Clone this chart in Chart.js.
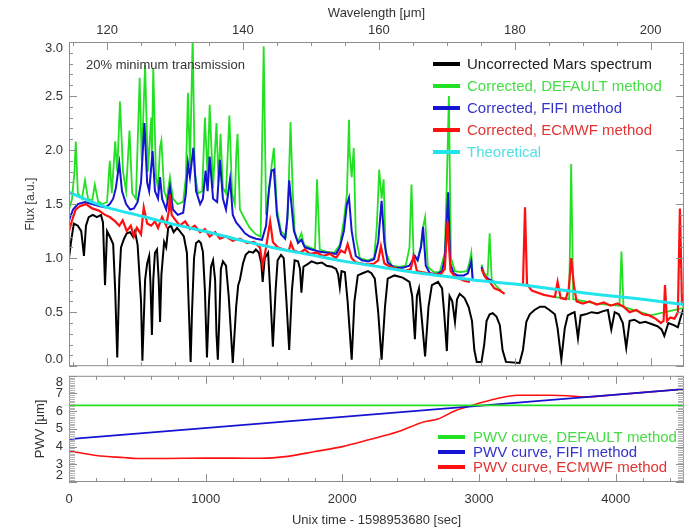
<!DOCTYPE html>
<html>
<head>
<meta charset="utf-8">
<script src="https://cdn.jsdelivr.net/npm/chart.js@4.4.1/dist/chart.umd.min.js"></script>
<style>
  html, body { margin: 0; padding: 0; background: #fff; }
  #wrap { position: relative; width: 690px; height: 528px; }
  #top { position: absolute; left: 0; top: 0; width: 690px; height: 380px; }
  #bot { position: absolute; left: 0; top: 362px; width: 690px; height: 166px; }
</style>
</head>
<body>
<div id="wrap">
  <canvas id="top" width="690" height="380"></canvas>
  <canvas id="bot" width="690" height="166"></canvas>
</div>
<script>
// ---- top panel: spectra vs wavelength (um) ----
const wlTicks   = [120, 140, 160, 180, 200];
const fluxTicks = [0, 0.5, 1.0, 1.5, 2.0, 2.5, 3.0];

const blackWl = [114.4,114.7,115.1,115.7,116.2,116.6,116.9,117.3,117.9,118.5,
  119.1,119.4,119.7,120.0,120.4,120.9,121.2,121.5,121.8,122.05,
  122.5,122.9,123.4,123.8,124.1,124.5,125.0,125.2,125.6,125.9,
  126.2,126.4,126.6,126.8,127.05,127.35,127.6,127.8,128.0,128.4,
  128.7,129.0,129.4,129.8,130.3,130.7,131.3,131.75,132.05,132.3,
  132.5,132.8,133.1,133.5,133.8,134.1,134.4,134.7,135.0,135.3,
  135.6,135.9,136.1,136.3,136.5,136.75,137.05,137.5,137.9,138.5,
  139.0,139.3,139.55,140.0,140.4,140.9,141.5,141.9,142.35,142.7,
  142.9,143.2,143.7,144.0,144.4,144.8,145.1,145.6,146.0,146.4,
  146.8,147.2,147.6,148.1,148.4,148.6,148.9,149.4,150.1,150.9,
  151.6,152.3,153.1,153.7,154.0,154.25,154.5,155.0,155.4,156.0,
  156.4,156.9,157.6,158.4,158.9,159.4,159.9,160.4,160.9,161.3,
  162.3,163.5,164.5,164.9,165.3,165.6,165.9,166.3,166.8,167.3,
  167.8,168.7,169.3,169.6,170.0,170.2,170.4,170.8,171.2,171.5,
  171.9,172.6,173.2,173.7,174.05,174.4,175.1,175.5,175.85,176.3,
  176.75,177.3,177.8,178.2,178.7,180.7,181.2,181.7,182.2,182.9,
  183.7,184.4,185.1,185.9,186.3,186.85,187.35,187.8,188.4,188.8,
  189.3,189.7,190.4,191.3,192.2,193.0,193.7,194.2,194.7,195.3,
  195.9,196.4,196.9,197.6,198.4,199.2,200.1,201.0,201.6,202.0,
  202.6,203.4,204.0,204.4,204.9];
const blackFlux = [1.00,1.15,1.32,1.30,1.25,1.02,1.30,1.38,1.40,1.38,
  1.40,1.33,0.75,1.25,1.20,1.13,0.70,0.08,0.80,1.10,
  1.18,1.23,1.24,1.20,1.25,1.12,0.60,0.05,0.80,0.95,
  1.02,0.75,0.29,0.80,1.05,1.08,0.80,0.41,0.85,1.15,
  1.10,1.28,1.30,1.24,1.28,1.25,1.20,1.05,0.50,0.04,
  0.50,1.00,1.14,1.16,1.14,1.06,0.70,0.08,0.60,0.92,
  0.98,0.80,0.30,0.06,0.40,0.90,0.97,0.93,0.65,0.03,
  0.55,0.75,0.80,0.95,1.03,1.06,1.05,1.08,1.05,0.95,
  0.78,1.00,1.05,0.70,0.18,0.70,0.98,1.03,1.00,0.60,
  0.15,0.70,0.98,0.97,0.90,0.68,0.92,0.94,0.97,0.95,
  0.96,0.93,0.92,0.90,0.85,0.73,0.88,0.87,0.60,0.06,
  0.60,0.84,0.86,0.88,0.86,0.81,0.50,0.06,0.55,0.81,
  0.84,0.82,0.78,0.65,0.25,0.65,0.72,0.45,0.09,0.55,
  0.75,0.78,0.72,0.50,0.14,0.45,0.65,0.60,0.41,0.62,
  0.67,0.63,0.55,0.42,0.15,0.04,0.04,0.20,0.42,0.48,
  0.49,0.46,0.38,0.15,0.04,0.03,0.15,0.41,0.48,0.52,
  0.55,0.55,0.52,0.48,0.35,0.06,0.35,0.47,0.49,0.50,
  0.26,0.47,0.48,0.50,0.49,0.51,0.52,0.34,0.50,0.48,
  0.40,0.17,0.42,0.43,0.40,0.41,0.39,0.37,0.34,0.28,
  0.40,0.38,0.36,0.45,0.55];

const greenWl = [114.4,114.85,115.2,115.4,115.7,116.3,116.75,117.2,117.8,118.2,
  118.7,119.4,120.0,120.4,120.7,121.2,121.5,121.9,122.35,122.8,
  123.3,123.7,124.25,124.8,125.1,125.6,126.0,126.5,126.6,126.8,
  127.2,127.5,127.8,128.0,128.4,128.8,129.25,129.7,130.4,131.2,
  131.6,131.9,132.2,132.6,132.9,133.4,134.0,134.4,134.8,135.1,
  135.6,136.1,136.4,136.7,137.05,137.5,138.0,138.4,138.8,139.0,
  139.2,139.55,140.1,141.0,141.9,142.6,143.05,143.4,143.8,144.2,
  144.55,145.0,145.6,146.3,146.6,147.0,147.3,147.6,148.1,148.6,
  149.0,149.8,150.6,150.9,151.3,152.2,153.4,154.25,154.85,155.3,
  155.6,155.7,156.0,156.3,156.6,157.2,158.4,159.3,159.7,160.05,
  160.4,160.7,161.0,161.9,163.05,163.95,164.5,164.8,165.1,165.7,
  166.2,166.5,166.8,167.2,168.1,168.95,169.7,170.0,170.3,170.6,
  171.2,172.0,172.95,173.3,173.6,173.8,174.5,175.1,175.5,176.0,
  176.3,176.6,177.3,178.0,181.2,186.0,188.0,188.3,188.6,192.0,
  195.4,195.7,196.0,200.0,204.9];
const greenFlux = [1.45,1.55,1.80,2.08,1.60,1.55,1.72,1.55,1.53,1.68,
  1.52,1.50,1.52,1.90,1.60,2.08,1.80,2.45,1.80,1.62,
  2.18,1.60,1.55,2.67,1.90,2.79,1.80,2.30,1.95,2.76,
  1.75,1.65,2.03,2.09,1.62,1.55,1.75,1.55,1.50,1.52,
  1.75,2.53,1.85,3.05,1.80,1.60,1.62,2.30,1.75,2.42,
  1.65,2.25,1.70,2.15,1.65,1.60,2.32,1.60,1.50,1.95,
  2.15,1.45,1.38,1.28,1.22,1.20,2.96,1.40,1.60,1.85,
  2.02,1.45,1.25,1.20,1.40,2.26,1.65,1.25,1.15,1.23,
  1.12,1.10,1.08,1.73,1.08,1.06,1.05,1.12,1.35,1.60,
  2.28,1.98,1.75,2.02,1.20,1.00,0.98,1.00,1.30,1.82,
  1.55,1.73,1.05,0.93,0.92,0.93,1.10,1.68,1.03,0.98,
  1.12,1.29,1.38,0.92,0.87,0.87,1.05,1.70,2.50,1.00,
  0.88,0.87,0.88,0.95,1.05,0.82,null,0.94,0.86,0.84,
  1.23,0.80,0.74,0.70,null,0.64,0.62,1.87,0.62,0.58,
  0.56,1.06,0.55,0.47,0.54];

const blueWl = [114.4,115.0,115.7,116.75,117.8,118.96,119.8,120.4,120.9,121.3,
  121.8,122.2,122.8,123.4,123.95,124.5,125.0,125.5,125.9,126.2,
  126.7,127.05,127.5,127.8,128.1,128.7,129.25,129.7,130.4,131.2,
  131.6,131.9,132.2,132.7,133.1,133.7,134.1,134.5,134.8,135.1,
  135.6,136.2,136.6,137.05,137.5,138.1,138.5,139.0,139.55,140.3,
  141.0,141.9,142.8,143.4,143.8,144.2,144.55,145.0,145.6,146.2,
  146.5,146.8,147.05,147.5,148.1,148.6,149.1,150.1,151.3,152.5,
  153.7,154.25,154.85,155.3,155.6,156.0,156.6,157.5,158.4,159.3,
  159.9,160.4,160.8,161.3,162.3,163.5,164.5,165.3,165.7,166.2,
  166.5,166.9,167.5,168.5,169.3,169.7,170.2,170.5,171.0,171.6,
  172.5,173.1,173.6,173.8,174.5,175.1,175.5,176.3,176.9];
const blueFlux = [1.35,1.45,1.50,1.52,1.50,1.48,1.47,1.50,1.55,1.65,
  1.88,1.62,1.50,1.45,1.46,1.52,1.70,2.25,1.70,1.62,
  1.99,1.62,1.55,1.75,1.55,1.45,1.66,1.45,1.40,1.42,
  1.60,1.88,1.75,2.02,1.62,1.50,1.55,1.81,1.62,1.94,
  1.55,1.52,1.91,1.55,1.45,1.73,1.40,1.33,1.29,1.23,
  1.20,1.18,1.17,1.30,1.62,1.81,1.82,1.40,1.22,1.18,
  1.35,1.72,1.55,1.25,1.14,1.17,1.10,1.08,1.06,1.05,
  1.04,1.10,1.25,1.50,1.56,1.25,1.02,0.98,0.97,0.99,
  1.15,1.53,1.15,0.96,0.91,0.91,0.93,1.02,0.98,1.10,
  1.29,0.93,0.86,0.85,0.88,1.00,1.61,0.95,0.86,0.84,
  0.84,0.86,0.97,0.80,null,0.92,0.84,0.80,0.78];

const redWl = [114.4,114.85,115.4,116.0,116.9,117.8,118.8,119.7,120.4,121.2,
  121.8,122.3,122.9,123.5,123.95,124.4,125.0,125.4,125.9,126.5,
  127.05,127.5,128.1,128.7,129.1,129.25,129.5,130.1,130.7,131.5,
  132.2,132.9,133.7,134.4,135.1,135.9,136.6,137.5,138.5,139.55,
  140.6,141.6,142.5,142.9,143.4,144.0,144.4,145.1,146.0,146.75,
  147.05,147.5,148.4,149.1,149.8,150.9,151.8,152.8,153.7,154.4,
  155.0,155.4,156.0,156.6,157.5,158.4,159.3,159.9,160.3,160.8,
  161.7,162.8,163.8,164.7,165.1,165.6,166.3,167.2,168.2,169.1,
  169.7,170.1,170.55,171.2,171.9,172.6,173.4,174.2,175.1,175.7,
  176.3,177.0,177.8,178.5,180.0,181.2,181.5,181.8,182.5,183.4,
  184.3,185.1,185.9,186.3,186.75,187.5,187.95,188.3,188.7,189.1,
  190.0,191.0,192.05,193.1,194.1,195.1,196.0,196.9,197.9,198.8,
  199.8,200.7,201.5,201.9,202.1,202.4,202.9,203.5,204.0,204.3,
  204.6,204.9];
const redFlux = [1.25,1.35,1.45,1.48,1.50,1.46,1.44,1.40,1.38,1.34,
  1.30,1.35,1.25,1.30,1.20,1.28,1.22,1.47,1.32,1.30,
  1.34,1.28,1.38,1.30,1.44,1.59,1.40,1.35,1.30,1.34,
  1.27,1.30,1.24,1.27,1.20,1.24,1.18,1.20,1.16,1.18,
  1.14,1.15,1.10,0.93,1.10,1.34,1.15,1.10,1.08,1.07,
  1.14,1.07,1.05,1.08,1.04,1.05,1.02,1.04,1.00,1.07,
  1.05,1.13,1.00,0.96,0.95,0.94,0.95,0.98,1.11,0.95,
  0.92,0.90,0.88,0.90,1.02,0.88,0.87,0.86,0.85,0.85,
  0.90,1.34,0.88,0.83,0.81,0.79,0.78,null,0.90,0.82,
  0.78,0.72,0.70,0.67,null,0.75,1.47,0.76,0.70,0.68,
  0.66,0.65,0.64,0.78,0.63,0.62,0.72,1.00,0.75,0.60,
  0.58,0.60,0.57,0.59,0.56,0.58,0.55,0.50,0.52,0.48,
  0.47,0.44,0.40,0.42,0.75,0.42,0.45,0.44,0.50,1.46,
  0.60,0.55];

const theoWl   = [114.4,117,120,125,130,135,140,145,150,155,160,165,170,175,180,185,190,195,200,204.9];
const theoFlux = [1.61,1.54,1.47,1.39,1.31,1.24,1.16,1.09,1.03,0.97,0.92,0.87,0.83,0.79,0.76,0.72,0.68,0.645,0.61,0.57];

// ---- bottom panel: PWV vs time ----
const timeTicks = [0, 1000, 2000, 3000, 4000];
const pwvTicks  = [2, 3, 4, 5, 6, 7, 8];
const pwvTime    = [0, 4500];
const pwvDefault = [6.33, 6.33];
const pwvFifi    = [4.42, 7.25];
const ecmwfTime = [0,200,400,500,700,1000,1200,1400,1600,1800,2000,2200,2400,2600,2700,2825,2970,3120,3285,3530,3650,3775,4000,4250,4500];
const ecmwfPwv  = [3.75,3.50,3.38,3.33,3.33,3.35,3.35,3.34,3.45,3.72,4.00,4.40,4.82,5.40,5.56,6.03,6.38,6.69,6.90,6.90,6.87,6.80,6.93,7.09,7.25];

const FONT = "'Liberation Sans', Arial, Helvetica, sans-serif";
Chart.defaults.font.family = FONT;
Chart.defaults.color = '#333';

const COL = { black: '#000000', green: '#22e022', blue: '#1414d2', red: '#ff1010', cyan: '#22e4ec' };
const TXT = { black: '#222222', green: '#44dd44', blue: '#3434c8', red: '#e23434', cyan: '#4fe0e4' };

function pts(xs, ys) { return xs.map((x, i) => ({ x, y: ys[i] })); }

function ds(label, xs, ys, color, width, extra) {
    return Object.assign({ label, data: pts(xs, ys), borderColor: color, backgroundColor: color,
        borderWidth: width, pointRadius: 0, tension: 0, spanGaps: false, txt: color }, extra || {});
}

function tickList(scale, step, majors) {
    const out = [];
    const n0 = Math.ceil(scale.min / step - 1e-6), n1 = Math.floor(scale.max / step + 1e-6);
    for (let n = n0; n <= n1; n++) {
        const v = +(n * step).toFixed(6);
        out.push({ px: Math.round(scale.getPixelForValue(v)) + 0.5, major: majors.some(m => Math.abs(m - v) < 1e-6) });
    }
    return out;
}

// frame + inward IDL-style ticks on all four sides
function framePlugin(xStep, xMajors, yStep, yMajors, yMinorLen, yMinorColor) {
    return {
        id: 'frame',
        afterDatasetsDraw(chart) {
            const { ctx, chartArea: a, scales: { x, y } } = chart;
            ctx.save();
            ctx.lineWidth = 1;
            ctx.strokeStyle = '#8e8e8e';
            ctx.strokeRect(a.left + 0.5, a.top + 0.5, a.right - a.left - 1, a.bottom - a.top - 1);
            ctx.beginPath();
            tickList(x, xStep, xMajors).forEach(t => {
                const len = t.major ? 8 : 4;
                ctx.moveTo(t.px, a.top); ctx.lineTo(t.px, a.top + len);
                ctx.moveTo(t.px, a.bottom); ctx.lineTo(t.px, a.bottom - len);
            });
            yMajors.forEach(v => {
                const py = Math.round(y.getPixelForValue(v)) + 0.5;
                ctx.moveTo(a.left, py); ctx.lineTo(a.left + 8, py);
                ctx.moveTo(a.right, py); ctx.lineTo(a.right - 8, py);
            });
            ctx.stroke();
            ctx.strokeStyle = yMinorColor;
            ctx.beginPath();
            tickList(y, yStep, yMajors).forEach(t => {
                if (t.major) return;
                ctx.moveTo(a.left, t.px); ctx.lineTo(a.left + yMinorLen, t.px);
                ctx.moveTo(a.right, t.px); ctx.lineTo(a.right - yMinorLen, t.px);
            });
            ctx.stroke();
            ctx.restore();
        }
    };
}

// legend drawn inside the plot, IDL style
function legendPlugin(x0, y0, dy, lineLen, gap, size) {
    return {
        id: 'inlegend',
        afterDraw(chart) {
            const ctx = chart.ctx;
            const items = chart.data.datasets.filter(d => d.legendRow !== undefined)
                .sort((p, q) => p.legendRow - q.legendRow);
            ctx.save();
            ctx.font = size + 'px ' + FONT;
            ctx.textBaseline = 'middle';
            ctx.textAlign = 'left';
            items.forEach((d, i) => {
                const yy = y0 + i * dy;
                ctx.strokeStyle = d.borderColor;
                ctx.lineWidth = 4;
                ctx.beginPath(); ctx.moveTo(x0, yy); ctx.lineTo(x0 + lineLen, yy); ctx.stroke();
                ctx.fillStyle = d.txt;
                ctx.fillText(d.label, x0 + lineLen + gap, yy + 1);
            });
            ctx.restore();
        }
    };
}

// first/last y labels pushed inward like the original
const edgeLabels = {
    id: 'edgeLabels',
    beforeDraw(chart) {
        try {
            const items = chart.scales.y.getLabelItems();
            if (!items || !items.length) return;
            items[0].options.textBaseline = 'bottom';
            items[items.length - 1].options.textBaseline = 'top';
        } catch (e) {}
    }
};

const note = {
    id: 'note',
    afterDraw(chart) {
        const ctx = chart.ctx;
        ctx.save();
        ctx.font = '13px ' + FONT;
        ctx.fillStyle = '#333';
        ctx.textBaseline = 'middle';
        ctx.fillText('20% minimum transmission', 86, 65);
        ctx.restore();
    }
};

function setTicks(list) { return s => { s.ticks = list.map(v => ({ value: v })); }; }

new Chart(document.getElementById('top'), {
    type: 'line',
    data: {
        datasets: [
            ds('Theoretical', theoWl, theoFlux, COL.cyan, 3, { txt: TXT.cyan, legendRow: 4, tension: 0.3 }),
            ds('Corrected, ECMWF method', redWl, redFlux, COL.red, 2.2, { txt: TXT.red, legendRow: 3 }),
            ds('Corrected, FIFI method', blueWl, blueFlux, COL.blue, 2, { txt: TXT.blue, legendRow: 2 }),
            ds('Corrected, DEFAULT method', greenWl, greenFlux, COL.green, 1.8, { txt: TXT.green, legendRow: 1 }),
            ds('Uncorrected Mars spectrum', blackWl, blackFlux, COL.black, 2, { txt: TXT.black, legendRow: 0 }),
        ]
    },
    options: {
        responsive: false, animation: false, devicePixelRatio: 1,
        layout: { padding: { left: 0, right: 6, top: 0, bottom: 8 } },
        plugins: { legend: { display: false }, tooltip: { enabled: false } },
        scales: {
            x: {
                type: 'linear', position: 'top', min: 114.4, max: 204.9,
                afterBuildTicks: setTicks(wlTicks),
                afterFit: s => { s.height = 42; },
                grid: { display: false, drawTicks: false }, border: { display: false },
                ticks: { font: { size: 13 }, padding: 4, maxRotation: 0, autoSkip: false, callback: v => String(v) },
                title: { display: true, text: 'Wavelength [\u03bcm]', font: { size: 13 }, padding: { top: 6, bottom: 0 } }
            },
            y: {
                type: 'linear', min: 0, max: 3,
                afterBuildTicks: setTicks(fluxTicks),
                afterFit: s => { s.width = 69; },
                grid: { display: false, drawTicks: false }, border: { display: false },
                ticks: { font: { size: 13 }, padding: 6, autoSkip: false, callback: v => v.toFixed(1) },
                title: { display: true, text: 'Flux [a.u.]', font: { size: 12 }, padding: { top: 23, bottom: 0 } }
            }
        }
    },
    plugins: [framePlugin(5, wlTicks, 0.1, fluxTicks, 4, '#8e8e8e'), legendPlugin(433, 64, 22, 27, 7, 15), edgeLabels, note]
});

new Chart(document.getElementById('bot'), {
    type: 'line',
    data: {
        datasets: [
            ds('PWV curve, DEFAULT method', pwvTime, pwvDefault, COL.green, 1.6, { txt: TXT.green, legendRow: 0 }),
            ds('PWV curve, FIFI method', pwvTime, pwvFifi, COL.blue, 1.6, { txt: TXT.blue, legendRow: 1 }),
            ds('PWV curve, ECMWF method', ecmwfTime, ecmwfPwv, COL.red, 1.6,
               { txt: TXT.red, legendRow: 2, cubicInterpolationMode: 'monotone' }),
        ]
    },
    options: {
        responsive: false, animation: false, devicePixelRatio: 1,
        layout: { padding: { left: 0, right: 6, top: 10, bottom: 0 } },
        plugins: { legend: { display: false }, tooltip: { enabled: false } },
        scales: {
            x: {
                type: 'linear', position: 'bottom', min: 0, max: 4500,
                afterBuildTicks: setTicks(timeTicks),
                afterFit: s => { s.height = 46; },
                grid: { display: false, drawTicks: false }, border: { display: false },
                ticks: { font: { size: 13 }, padding: 10, maxRotation: 0, autoSkip: false, callback: v => String(v) },
                title: { display: true, text: 'Unix time - 1598953680 [sec]', font: { size: 13 }, padding: { top: 0, bottom: 0 } }
            },
            y: {
                type: 'linear', min: 2, max: 8,
                afterBuildTicks: setTicks(pwvTicks),
                afterFit: s => { s.width = 69; },
                grid: { display: false, drawTicks: false }, border: { display: false },
                ticks: { font: { size: 13 }, padding: 6, autoSkip: false, callback: v => String(v) },
                title: { display: true, text: 'PWV [\u03bcm]', font: { size: 13 }, padding: { top: 33, bottom: 0 } }
            }
        }
    },
    plugins: [framePlugin(200, timeTicks, 0.1, pwvTicks, 6, '#b4b4b4'), legendPlugin(438, 75, 15, 27, 8, 15), edgeLabels]
});
</script>
</body>
</html>
